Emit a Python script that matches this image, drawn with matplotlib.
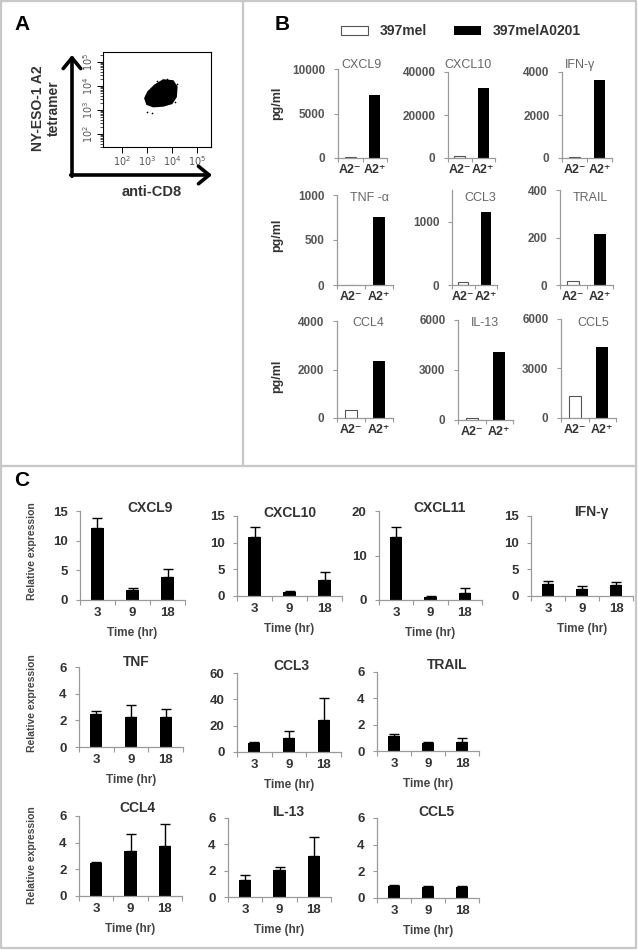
import matplotlib.pyplot as plt
from matplotlib.patches import Patch
import numpy as np

plt.rcParams['font.family'] = ['Liberation Sans', 'DejaVu Sans']

W, H = 638, 950

# ---------------- data ----------------
# panel A: outline of the dense event cloud and a few stray events
cloud_cd8 = [4500, 11000, 15500, 14500, 9800, 4500, 1800, 1000, 830, 1100, 2100]
cloud_tet = [17800, 16200, 9300, 3550, 1900, 1500, 1400, 1750, 3100, 5750, 11000]
stray_cd8 = [970, 1550, 1320, 13200, 6500, 16000, 2600, 900]
stray_tet = [850, 730, 6800, 2240, 19500, 12000, 17000, 4300]

# panel B: cytokine secretion (pg/ml)
b_cytokines = ['CXCL9', 'CXCL10', 'IFN-γ', 'TNF -α', 'CCL3', 'TRAIL', 'CCL4', 'IL-13', 'CCL5']
b_groups = ['A2⁻', 'A2⁺']
b_series = ['397mel', '397melA0201']
b_397mel = [150, 1000, 30, 0, 50, 17, 350, 150, 1330]
b_397melA0201 = [7100, 32500, 3650, 760, 1150, 215, 2350, 4100, 4300]
b_yticks = [[0, 5000, 10000], [0, 20000, 40000], [0, 2000, 4000],
            [0, 500, 1000], [0, 1000], [0, 200, 400],
            [0, 2000, 4000], [0, 3000, 6000], [0, 3000, 6000]]
b_ymax = [10000, 40000, 4000, 1000, 1500, 400, 4000, 6000, 6000]

# panel C: relative expression over time
c_genes = ['CXCL9', 'CXCL10', 'CXCL11', 'IFN-γ', 'TNF', 'CCL3', 'TRAIL', 'CCL4', 'IL-13', 'CCL5']
c_times = ['3', '9', '18']
c_mean = [[12.1, 1.7, 3.8], [11.0, 0.8, 3.0], [14.2, 0.6, 1.65], [2.3, 1.4, 2.1],
          [2.5, 2.25, 2.25], [6.5, 11.0, 24.0], [1.14, 0.58, 0.66],
          [2.45, 3.38, 3.75], [1.27, 2.07, 3.12], [0.9, 0.85, 0.85]]
c_err = [[1.7, 0.4, 1.5], [2.0, 0.1, 1.5], [2.1, 0.3, 0.95], [0.5, 0.5, 0.6],
         [0.2, 0.9, 0.6], [1.2, 5.3, 17.0], [0.13, 0.08, 0.3],
         [0.13, 1.3, 1.65], [0.43, 0.2, 1.44], [0.05, 0.05, 0.05]]
c_yticks = [[0, 5, 10, 15], [0, 5, 10, 15], [0, 10, 20], [0, 5, 10, 15],
            [0, 2, 4, 6], [0, 20, 40, 60], [0, 2, 4, 6],
            [0, 2, 4, 6], [0, 2, 4, 6], [0, 2, 4, 6]]

# ---------------- layout (pixels) ----------------
b_boxes = [(338, 387, 69, 158), (448, 495, 72, 158), (562, 612, 72, 158),
           (337, 393, 195, 285), (452, 497, 190, 285), (560, 613, 190, 285),
           (337, 393, 321, 418), (458, 513, 320, 420), (561, 616, 319, 418)]
b_title_xy = [(361, 65), (468, 65), (580, 65), (369, 198), (480, 198), (590, 198),
              (368, 323), (485, 323), (593, 323)]
c_boxes = [(80, 185, 511, 600), (237, 342, 516, 596), (379, 482, 511, 600), (531, 633, 516, 596),
           (79, 183, 667, 747), (237, 341, 673, 752), (377, 479, 672, 751),
           (79, 182, 816, 896), (228, 331, 818, 897), (377, 479, 818, 898)]
c_title_xy = [(150, 508), (290, 513), (440, 508), (591, 512), (136, 662), (291, 666),
              (447, 665), (137, 808), (288, 812), (436, 812)]
c_ylabel_y = {0: 551, 4: 703, 7: 855}

GREY_AX = '#9a9a9a'
TXT = '#333333'

fig = plt.figure(figsize=(W / 100, H / 100), dpi=100)


def px_axes(x0, x1, y0, y1):
    return fig.add_axes([x0 / W, 1 - y1 / H, (x1 - x0) / W, (y1 - y0) / H])


# background canvas for frames, arrows and panel letters
bg = fig.add_axes([0, 0, 1, 1])
bg.set_xlim(0, W)
bg.set_ylim(H, 0)
bg.axis('off')
frame = dict(color='#c8c8c8', lw=1.6)
bg.plot([1, 636, 636, 1, 1], [1, 1, 948, 948, 1], **frame)
bg.plot([243, 243], [1, 466], **frame)
bg.plot([1, 636], [466, 466], **frame)
for letter, x, y in [('A', 22, 25), ('B', 282, 25), ('C', 22, 480)]:
    bg.text(x, y, letter, fontsize=15, fontweight='bold', ha='center', va='center')

# ---------------- panel A ----------------
arrow = dict(arrowstyle='->, head_length=0.55, head_width=0.45', lw=2.6, color='black',
             mutation_scale=14, shrinkA=0, shrinkB=0)
bg.annotate('', xy=(72, 55), xytext=(72, 176.3), arrowprops=arrow)
bg.annotate('', xy=(212, 175), xytext=(70.7, 175), arrowprops=arrow)
bg.text(46, 108, 'NY-ESO-1 A2\ntetramer', rotation=90, ha='center', va='center',
        fontsize=10, fontweight='bold', color=TXT, linespacing=1.15)
bg.text(152, 192, 'anti-CD8', ha='center', va='center', fontsize=10.5,
        fontweight='bold', color=TXT)

axa = px_axes(103, 211, 52, 147)
axa.fill(cloud_cd8, cloud_tet, color='black', lw=1.2, edgecolor='black')
axa.scatter(stray_cd8, stray_tet, s=1.5, color='black', lw=0)
axa.set_xscale('log')
axa.set_yscale('log')
axa.set_xlim(10 ** 1.24, 10 ** 5.56)
axa.set_ylim(10 ** 1.46, 10 ** 5.42)
ticks = [1e2, 1e3, 1e4, 1e5]
labels = ['$10^{2}$', '$10^{3}$', '$10^{4}$', '$10^{5}$']
axa.set_xticks(ticks, labels)
axa.set_yticks(ticks, labels)
axa.tick_params(which='major', length=4, width=0.7, labelsize=7, labelcolor='#555555', pad=1.5)
axa.tick_params(which='minor', length=2.3, width=0.5)
axa.tick_params(axis='y', labelrotation=90)
for lab in axa.get_yticklabels():
    lab.set_va('center')
for sp in axa.spines.values():
    sp.set_linewidth(0.8)

# ---------------- panel B ----------------
for i, (name, box) in enumerate(zip(b_cytokines, b_boxes)):
    x0, x1, y0, y1 = box
    ax = px_axes(*box)
    h_white = ax.bar([0.5], [b_397mel[i]], 0.45, color='white', edgecolor='#555555', lw=0.8)
    h_black = ax.bar([1.5], [b_397melA0201[i]], 0.45, color='black')
    ax.set_xlim(0, 2)
    ax.set_ylim(0, b_ymax[i])
    ax.set_yticks(b_yticks[i], [str(t) for t in b_yticks[i]])
    ax.set_xticks([0, 1, 2], ['', '', ''])
    ax.set_xticks([0.5, 1.5], b_groups, minor=True)
    ax.tick_params(axis='x', which='minor', length=0, pad=4.5, labelsize=9, labelcolor=TXT)
    ax.tick_params(axis='x', which='major', length=3, color=GREY_AX, width=0.8)
    ax.tick_params(axis='y', length=3, color=GREY_AX, width=0.8, labelsize=8.5,
                   labelcolor='#555555', pad=6)
    for lab in ax.get_yticklabels() + ax.get_xticklabels(minor=True):
        lab.set_fontweight('bold')
    for sp in ['top', 'right']:
        ax.spines[sp].set_visible(False)
    for sp in ['left', 'bottom']:
        ax.spines[sp].set_color(GREY_AX)
        ax.spines[sp].set_linewidth(0.9)
    tx, ty = b_title_xy[i]
    ax.text((tx - x0) / (x1 - x0), (y1 - ty) / (y1 - y0), name, transform=ax.transAxes,
            ha='center', va='center', fontsize=9, color='#666666')
    if i % 3 == 0:
        ax.set_ylabel('pg/ml', fontsize=9, fontweight='bold', color=TXT)
        yc = [103, 235, 376][i // 3]
        ax.yaxis.set_label_coords((283 - x0) / (x1 - x0), (y1 - yc) / (y1 - y0))
    if i == 0:
        legend_handles = [h_white[0], h_black[0]]

fig.legend(legend_handles, b_series, loc='center', bbox_to_anchor=(461 / W, 1 - 31 / H),
           ncol=2, frameon=False, prop=dict(size=10, weight='bold'), labelcolor=TXT,
           handlelength=1.95, handleheight=0.6, handletextpad=0.85, columnspacing=1.9)

# ---------------- panel C ----------------
for i, (gene, box) in enumerate(zip(c_genes, c_boxes)):
    x0, x1, y0, y1 = box
    ax = px_axes(*box)
    xs = np.arange(len(c_times)) + 0.5
    ax.bar(xs, c_mean[i], 0.35, color='black',
           yerr=[np.zeros(len(c_times)), c_err[i]],
           error_kw=dict(ecolor='black', elinewidth=1.0, capsize=3.5, capthick=1.0))
    ax.set_xlim(0, len(c_times))
    ax.set_ylim(0, c_yticks[i][-1])
    ax.set_yticks(c_yticks[i], [str(t) for t in c_yticks[i]])
    ax.set_xticks(range(len(c_times) + 1), [''] * (len(c_times) + 1))
    ax.set_xticks(xs, c_times, minor=True)
    ax.tick_params(axis='x', which='minor', length=0, pad=5, labelsize=9.5, labelcolor=TXT)
    ax.tick_params(axis='x', which='major', length=3.5, color=GREY_AX, width=0.8)
    ax.tick_params(axis='y', length=3, color=GREY_AX, width=0.8, labelsize=9.5,
                   labelcolor=TXT, pad=6)
    for lab in ax.get_yticklabels() + ax.get_xticklabels(minor=True):
        lab.set_fontweight('bold')
    for sp in ['top', 'right']:
        ax.spines[sp].set_visible(False)
    for sp in ['left', 'bottom']:
        ax.spines[sp].set_color(GREY_AX)
        ax.spines[sp].set_linewidth(0.9)
    tx, ty = c_title_xy[i]
    ax.text((tx - x0) / (x1 - x0), (y1 - ty) / (y1 - y0), gene, transform=ax.transAxes,
            ha='center', va='center', fontsize=10, fontweight='bold', color=TXT)
    ax.set_xlabel('Time (hr)', fontsize=8.5, fontweight='bold', color='#444444')
    ax.xaxis.set_label_coords(0.5, -27 / (y1 - y0))
    if i in c_ylabel_y:
        ax.set_ylabel('Relative expression', fontsize=7.5, fontweight='bold', color='#444444')
        ax.yaxis.set_label_coords((37 - x0) / (x1 - x0), (y1 - c_ylabel_y[i]) / (y1 - y0))

fig.savefig('out.png', dpi=100, facecolor='white')
